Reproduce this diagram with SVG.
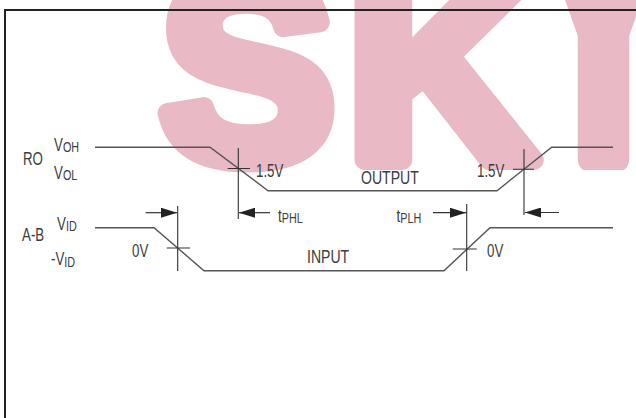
<svg xmlns="http://www.w3.org/2000/svg" width="636" height="418" viewBox="0 0 636 418">
<style>
.wm{font-family:"Liberation Sans",Arial,sans-serif;font-weight:bold;font-size:262px;fill:#e9b9c5;stroke:#e9b9c5;stroke-width:20;stroke-linejoin:round}
.lbl{font-family:"Liberation Sans",Arial,sans-serif;font-size:18.5px;fill:#3c3c3c}
.sub{font-size:15px}
.wave{fill:none;stroke:#555;stroke-width:1.4}
.tick{fill:none;stroke:#333;stroke-width:1.1}
.arr{fill:none;stroke:#333;stroke-width:1.2;marker-end:url(#ah)}
.frame{fill:none;stroke:#222;stroke-width:2}
</style>
<defs>
<marker id="ah" markerUnits="userSpaceOnUse" markerWidth="16" markerHeight="10" refX="16" refY="5" orient="auto">
<path d="M0,0 L16,5 L0,10 Z" fill="#222"/>
</marker>
</defs>
<rect width="636" height="418" fill="#fff"/>
<g id="watermark">
<text class="wm" x="160" y="160">S</text>
<text class="wm" x="347" y="160">K</text>
<text class="wm" style="stroke-width:14" transform="translate(516,158) scale(1,1.7)">Y</text>
</g>
<path class="frame" d="M5,418 V10 H636"/>
<g id="ro-signal">
<polyline class="wave" points="95,147.3 210,147.3 268,190.7 497,190.7 551.7,147.3 613,147.3"/>
<path class="tick" d="M238.3,148 V219 M227.7,168.5 H250 M524,149 V215 M513,169.3 H534"/>
</g>
<g id="ab-signal">
<polyline class="wave" points="95,227.7 154,227.7 204,270.7 444,270.7 490,227.7 613,227.7"/>
<path class="tick" d="M177.7,206 V271 M166.7,248 H190 M466.7,204 V271 M452.7,249 H476.7"/>
</g>
<g id="labels">
<text class="lbl" transform="translate(23,165) scale(0.72,1)">RO</text>
<text class="lbl" transform="translate(54,151) scale(0.72,1)">V<tspan class="sub" dy="1">OH</tspan></text>
<text class="lbl" transform="translate(54,178.5) scale(0.72,1)">V<tspan class="sub" dy="1.5">OL</tspan></text>
<text class="lbl" transform="translate(22,241) scale(0.72,1)">A-B</text>
<text class="lbl" transform="translate(57,229.5) scale(0.72,1)">V<tspan class="sub" dy="1.5">ID</tspan></text>
<text class="lbl" transform="translate(51,265) scale(0.72,1)">-V<tspan class="sub" dy="2">ID</tspan></text>
<text class="lbl" transform="translate(256,177) scale(0.72,1)">1.5V</text>
<text class="lbl" transform="translate(477,177) scale(0.72,1)">1.5V</text>
<text class="lbl" transform="translate(361,184) scale(0.76,1)">OUTPUT</text>
<text class="lbl" transform="translate(307,262.5) scale(0.76,1)">INPUT</text>
<text class="lbl" transform="translate(132,257) scale(0.72,1)">0V</text>
<text class="lbl" transform="translate(487,257) scale(0.72,1)">0V</text>
<text class="lbl" transform="translate(278,221.5) scale(0.72,1)">t<tspan class="sub" dy="1">PHL</tspan></text>
<text class="lbl" transform="translate(396.5,221.5) scale(0.72,1)">t<tspan class="sub" dy="1">PLH</tspan></text>
</g>
<g id="connectors">
<line class="arr" x1="145.7" y1="212.7" x2="177" y2="212.7"/>
<line class="arr" x1="270" y1="212.7" x2="239" y2="212.7"/>
<line class="arr" x1="433" y1="212.7" x2="466" y2="212.7"/>
<line class="arr" x1="559" y1="212.5" x2="525" y2="212.5"/>
</g>
</svg>
